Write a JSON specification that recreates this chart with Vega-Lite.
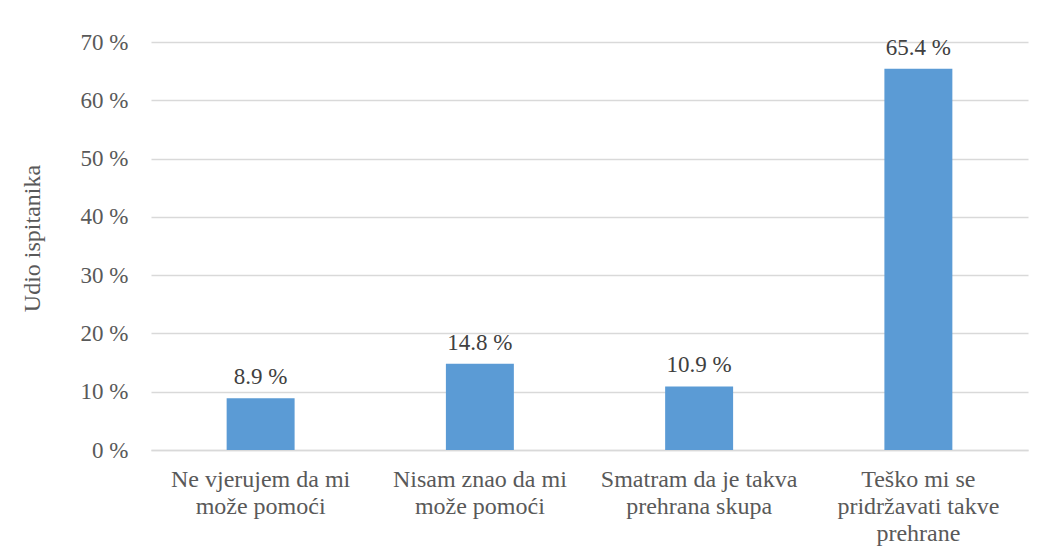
{
  "$schema": "https://vega.github.io/schema/vega-lite/v6.json",
  "width": 877,
  "height": 408,
  "autosize": {"type": "none"},
  "padding": {"left": 151, "top": 42, "right": 16, "bottom": 106},
  "background": "white",
  "data": {
    "values": [
      {"kategorija": "Ne vjerujem da mi|može pomoći", "udio": 8.9},
      {"kategorija": "Nisam znao da mi|može pomoći", "udio": 14.8},
      {"kategorija": "Smatram da je takva|prehrana skupa", "udio": 10.9},
      {"kategorija": "Teško mi se|pridržavati takve|prehrane", "udio": 65.4}
    ]
  },
  "config": {
    "font": "Liberation Serif",
    "view": {"stroke": null},
    "axis": {
      "labelFont": "Liberation Serif",
      "titleFont": "Liberation Serif",
      "labelColor": "#595959",
      "titleColor": "#595959",
      "labelFontSize": 23,
      "titleFontWeight": "normal"
    }
  },
  "encoding": {
    "x": {
      "field": "kategorija",
      "type": "nominal",
      "sort": null,
      "scale": {"paddingInner": 0, "paddingOuter": 0},
      "axis": {
        "title": null,
        "labelAngle": 0,
        "labelFont": "Liberation Serif",
        "labelFontSize": 24,
        "labelLimit": 0,
        "labelExpr": "split(datum.label, '|')",
        "labelLineHeight": 27,
        "labelPadding": 17,
        "labelBaseline": "top",
        "ticks": false,
        "domain": true,
        "domainColor": "#d9d9d9",
        "domainWidth": 1.5,
        "grid": false
      }
    },
    "y": {
      "field": "udio",
      "type": "quantitative",
      "scale": {"domain": [0, 70], "nice": false},
      "axis": {
        "title": "Udio ispitanika",
        "titleFontSize": 24,
        "titlePadding": 36,
        "titleY": 196,
        "labelFont": "Liberation Serif",
        "labelFontSize": 23,
        "values": [0, 10, 20, 30, 40, 50, 60, 70],
        "labelExpr": "datum.value + ' %'",
        "labelPadding": 23,
        "ticks": false,
        "domain": false,
        "grid": true,
        "gridColor": "#d9d9d9",
        "gridWidth": 1.5
      }
    }
  },
  "layer": [
    {
      "mark": {"type": "bar", "color": "#5B9BD5", "width": {"band": 0.31}}
    },
    {
      "transform": [{"calculate": "format(datum.udio, '.1f') + ' %'", "as": "oznaka"}],
      "mark": {"type": "text", "baseline": "alphabetic", "dy": -14, "fontSize": 23, "color": "#404040", "font": "Liberation Serif"},
      "encoding": {"text": {"field": "oznaka"}}
    }
  ]
}
